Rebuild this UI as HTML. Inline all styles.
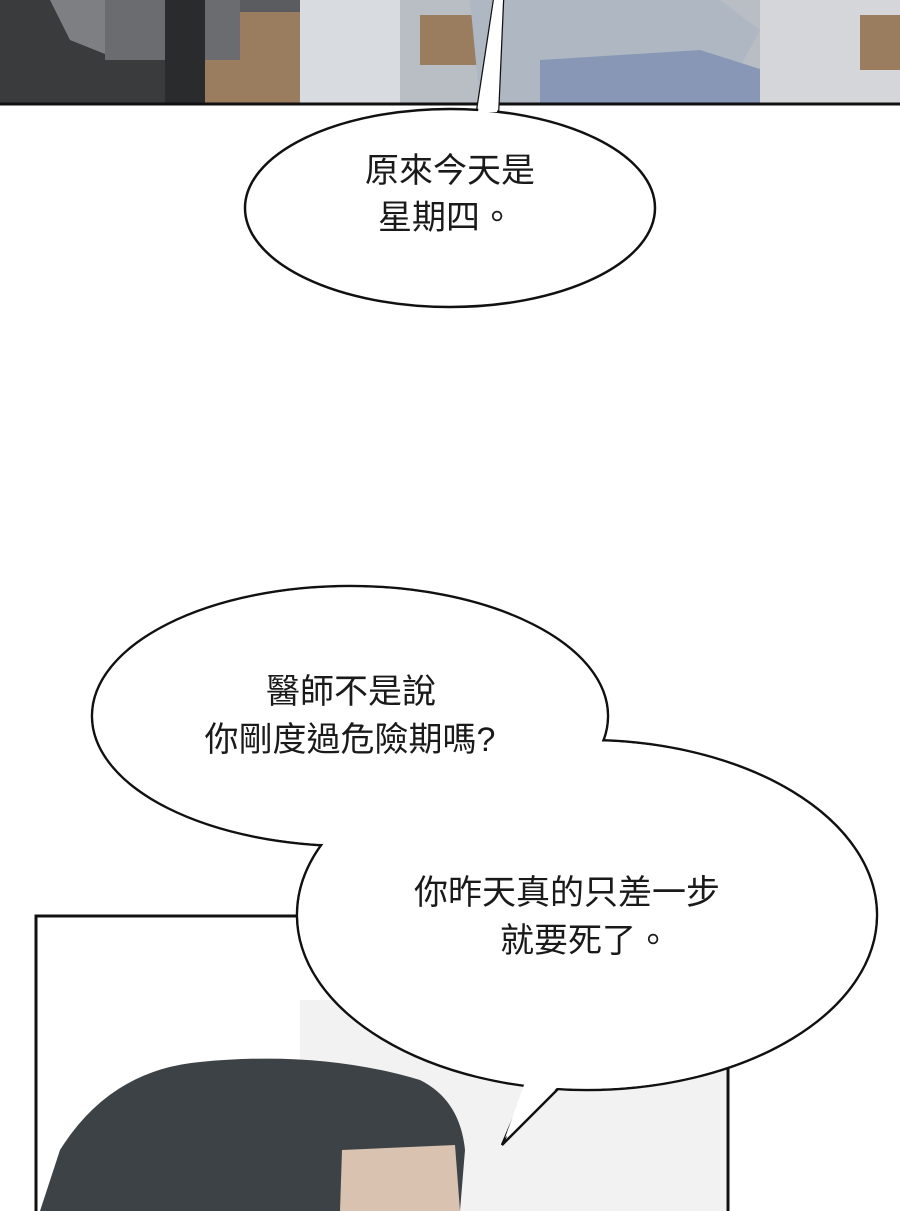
<!DOCTYPE html>
<html><head><meta charset="utf-8"><style>
body{margin:0;width:900px;height:1211px;overflow:hidden;background:#fff}
svg{display:block}
text{font-family:"Liberation Sans","Noto Sans CJK TC",sans-serif;font-size:34px;fill:#1a1a1a}
</style></head><body>
<svg width="900" height="1211" viewBox="0 0 900 1211" xmlns="http://www.w3.org/2000/svg">
<rect x="0" y="0" width="900" height="104" fill="#b9bec4"/>
<rect x="0" y="0" width="210" height="104" fill="#3a3b3d"/>
<path d="M50 0 L130 0 L120 60 L70 40 Z" fill="#7d7f82"/>
<rect x="195" y="10" width="105" height="94" fill="#9a7c5e"/>
<rect x="105" y="0" width="135" height="60" fill="#6a6c70"/>
<rect x="240" y="0" width="120" height="12" fill="#5a5c60"/>
<rect x="165" y="0" width="40" height="104" fill="#2a2b2d"/>
<rect x="300" y="0" width="100" height="104" fill="#d8dbdf"/>
<rect x="420" y="15" width="60" height="50" fill="#9a7c5e"/>
<path d="M470 0 L720 0 L760 30 L720 104 L480 104 Z" fill="#aeb7c2"/>
<path d="M540 60 L700 50 L870 104 L540 104 Z" fill="#8897b5"/>
<rect x="760" y="0" width="140" height="104" fill="#d4d6da"/>
<rect x="860" y="15" width="40" height="55" fill="#9a7c5e"/>
<line x1="0" y1="104" x2="900" y2="104" stroke="#111" stroke-width="3"/>
<!-- bubble 1 -->
<path d="M476 118 L494 0 M503 0 L498 114" stroke="#111" stroke-width="2.5" fill="none"/>
<path d="M476 118 L494 0 L503 0 L498 114 Z" fill="#fff"/>
<ellipse cx="450" cy="208" rx="205" ry="99" fill="#fff" stroke="#111" stroke-width="2.5"/>
<path d="M478 112 L494 0 L502 0 L497 112 Z" fill="#fff"/>
<text x="450" y="182" text-anchor="middle">原來今天是</text>
<text x="446" y="229" text-anchor="middle">星期四。</text>
<!-- lower panel -->
<rect x="36" y="916" width="692" height="300" fill="#fff" stroke="#111" stroke-width="3"/>
<rect x="300" y="1000" width="426" height="211" fill="#f2f2f2"/>
<path d="M40 1211 L60 1150 Q110 1070 200 1062 Q320 1050 420 1080 Q460 1100 465 1150 L460 1211 Z" fill="#3d4246"/>
<path d="M342 1150 L455 1145 L460 1211 L340 1211 Z" fill="#d9c2b0"/>
<!-- bubbles 2+3 union -->
<path d="M530 1080 L502 1145 L565 1082 Z" fill="#fff" stroke="#111" stroke-width="2.5"/>
<ellipse cx="350" cy="716" rx="258" ry="130" fill="#fff" stroke="#111" stroke-width="2.5"/>
<ellipse cx="587" cy="915" rx="290" ry="175" fill="#fff" stroke="#111" stroke-width="2.5"/>
<ellipse cx="350" cy="716" rx="256.8" ry="128.8" fill="#fff"/>
<ellipse cx="587" cy="915" rx="288.8" ry="173.8" fill="#fff"/>
<path d="M525 1082 L505 1138 L565 1080 Z" fill="#fff"/>
<text x="351" y="703" text-anchor="middle">醫師不是說</text>
<text x="350" y="751" text-anchor="middle">你剛度過危險期嗎?</text>
<text x="567" y="904" text-anchor="middle">你昨天真的只差一步</text>
<text x="585" y="952" text-anchor="middle">就要死了。</text>
</svg>
</body></html>
